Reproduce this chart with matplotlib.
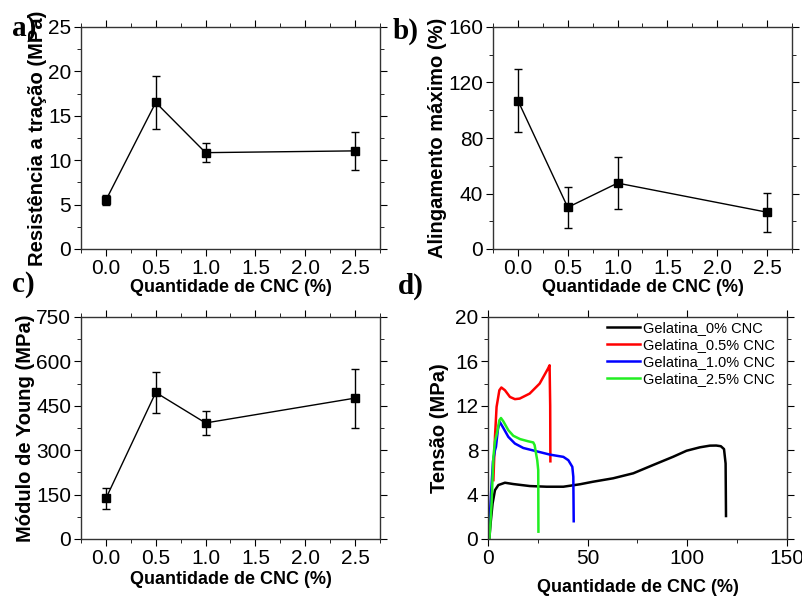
import matplotlib.pyplot as plt
from matplotlib.ticker import MultipleLocator

plt.rcParams['font.family'] = ['Liberation Sans', 'DejaVu Sans']

# CNC content (%) for panels a-c
cnc = [0.0, 0.5, 1.0, 2.5]

# a) tensile strength
tensao_rup = [5.5, 16.5, 10.85, 11.05]
tensao_err = [0.6, 2.95, 1.05, 2.15]

# b) elongation at break
along = [107, 30, 47.5, 26.5]
along_err = [23, 15, 18.5, 14]

# c) Young modulus
young = [137, 495, 392, 476]
young_err = [36, 68, 41, 100]

# d) stress-strain curves (read off the picture)
x0 = [0, 0.7, 1.3, 2.3, 3.5, 5.2, 8.5, 12.7, 21, 29.4, 37.8, 46.1, 52.7, 62.8,
      72.9, 82.9, 92.9, 99.6, 106.3, 111.3, 114.5, 116.8, 118.4, 119.2, 119.4]
y0 = [0, 0.06, 1.4, 3.2, 4.4, 4.86, 5.07, 4.95, 4.77, 4.71, 4.71, 4.93, 5.16, 5.47,
      5.92, 6.67, 7.41, 7.95, 8.26, 8.41, 8.42, 8.36, 8.1, 6.8, 2.07]

x05 = [2.7, 3.5, 4.3, 5.7, 6.7, 8.5, 11, 13.5, 15.9, 20.9, 25.9, 30.1, 30.9, 31.2, 31.3]
y05 = [5.3, 9.2, 11.9, 13.4, 13.65, 13.4, 12.8, 12.6, 12.65, 13.1, 14.0, 15.35, 15.65, 12.0, 7.0]

x10 = [0.3, 1.5, 2.5, 3.5, 4.0, 4.3, 5.0, 5.9, 7.7, 10.2, 13.5, 17.7, 24.4, 31.1,
       37.8, 40.3, 42.3, 42.8, 43.0]
y10 = [0, 4.0, 7.0, 8.0, 8.3, 8.8, 9.9, 10.55, 10.0, 9.2, 8.6, 8.2, 7.9, 7.6,
       7.4, 7.1, 6.5, 5.6, 1.6]

x25 = [0.7, 1.8, 2.7, 3.5, 4.7, 5.7, 6.5, 7.7, 10.2, 12.7, 16.1, 20.2, 22.7, 23.4,
       24.1, 24.7, 25.2, 25.3]
y25 = [0, 3.2, 7.4, 8.8, 9.7, 10.7, 10.9, 10.6, 9.8, 9.3, 9.0, 8.8, 8.7, 8.45,
       7.7, 7.1, 6.2, 0.66]

curvas = [
    (x0, y0, 'black', 'Gelatina_0% CNC'),
    (x05, y05, 'red', 'Gelatina_0.5% CNC'),
    (x10, y10, 'blue', 'Gelatina_1.0% CNC'),
    (x25, y25, '#22ee22', 'Gelatina_2.5% CNC'),
]

fig = plt.figure(figsize=(8.03, 5.96), dpi=100)
W, H = 803, 596


def add_ax(left, top, right, bottom):
    return fig.add_axes([left / W, 1 - bottom / H, (right - left) / W, (bottom - top) / H])


def style(ax, xmin, ymaj, ymin):
    ax.tick_params(which='both', direction='out', labelsize=15, top=True, right=True)
    ax.tick_params(which='major', length=5)
    ax.tick_params(which='minor', length=3)
    ax.tick_params(which='both', pad=2)
    ax.xaxis.set_minor_locator(MultipleLocator(xmin))
    ax.yaxis.set_major_locator(MultipleLocator(ymaj))
    ax.yaxis.set_minor_locator(MultipleLocator(ymin))
    for s in ax.spines.values():
        s.set_linewidth(1.0)
        s.set_color('#333333')


def painel(ax, y, err, ylim, ymaj, ymin, ylabel):
    ax.errorbar(cnc, y, yerr=err, color='black', marker='s', markersize=6,
                linewidth=1.0, elinewidth=1.0, capsize=3, capthick=1.0)
    ax.set_xlim(-0.25, 2.75)
    ax.set_ylim(*ylim)
    ax.set_xticks([0.0, 0.5, 1.0, 1.5, 2.0, 2.5])
    ax.set_xticklabels(['0.0', '0.5', '1.0', '1.5', '2.0', '2.5'])
    style(ax, 0.25, ymaj, ymin)
    ax.set_ylabel(ylabel, fontsize=14.5, fontweight='bold', labelpad=1)
    ax.set_xlabel('Quantidade de CNC (%)', fontsize=13, fontweight='bold', labelpad=1)


ax_a = add_ax(81, 27, 380, 249)
painel(ax_a, tensao_rup, tensao_err, (0, 25), 5, 2.5, 'Resistência a tração (MPa)')

ax_b = add_ax(493, 27, 792, 249)
painel(ax_b, along, along_err, (0, 160), 40, 20, 'Alingamento máximo (%)')

ax_c = add_ax(81, 317, 380, 539)
painel(ax_c, young, young_err, (0, 750), 150, 75, 'Módulo de Young (MPa)')
ax_c.xaxis.labelpad = 2

ax_d = add_ax(488, 317, 787, 539)
for xs, ys, cor, nome in curvas:
    ax_d.plot(xs, ys, color=cor, linewidth=1.8, label=nome)
ax_d.set_xlim(0, 150)
ax_d.set_ylim(0, 20)
ax_d.set_xticks([0, 50, 100, 150])
style(ax_d, 25, 4, 2)
ax_d.set_ylabel('Tensão (MPa)', fontsize=14.5, fontweight='bold', labelpad=4)
ax_d.set_xlabel('Quantidade de CNC (%)', fontsize=13, fontweight='bold', labelpad=8)
ax_d.legend(loc='upper left', bbox_to_anchor=(0.378, 1.01), frameon=False,
            fontsize=10.5, handlelength=2.3, handletextpad=0.2, labelspacing=0.22,
            borderaxespad=0)

for txt, x, y in [('a)', 12, 29), ('b)', 393, 31), ('c)', 12, 284), ('d)', 398, 286)]:
    fig.text(x / W, 1 - y / H, txt, family=['Liberation Serif', 'DejaVu Serif'],
             fontsize=21, fontweight='bold', va='center', ha='left')

fig.savefig('out.png', dpi=100)
